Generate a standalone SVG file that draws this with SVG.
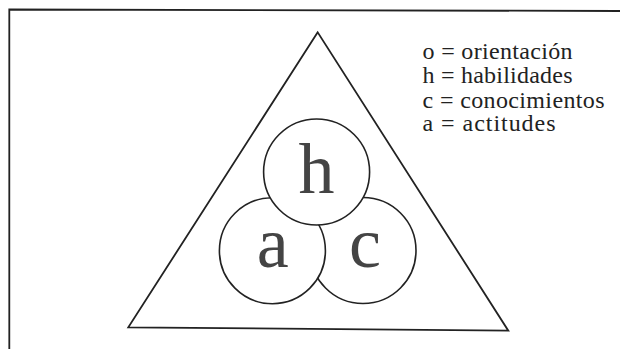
<svg xmlns="http://www.w3.org/2000/svg" width="620" height="349" viewBox="0 0 620 349">
<style>
.ln{fill:none;stroke:#222;stroke-width:1.8;stroke-linejoin:miter}
.cir{fill:#fff;stroke:#222;stroke-width:1.6}
.big{font-size:72px;fill:#444;text-anchor:middle}
.leg{font-size:24px;fill:#222}
</style>
<rect width="620" height="349" fill="#fff"/>
<g id="frame">
<polyline class="ln" points="9.3,349 9.3,9.5 620,11" stroke-width="2"/>
</g>
<g id="triangle">
<polygon class="ln" points="317.7,32.3 128.3,327.3 508.3,330.7"/>
</g>
<g id="connectors"></g>
<g id="node-c">
<circle class="cir" cx="363" cy="250.5" r="53"/>
<text class="big" font-family="Liberation Serif, serif" x="365" y="267">c</text>
</g>
<g id="node-a">
<circle class="cir" cx="272.4" cy="250.7" r="53"/>
<text class="big" font-family="Liberation Serif, serif" x="272.7" y="267">a</text>
</g>
<g id="node-h">
<circle class="cir" cx="316.6" cy="172" r="53"/>
<text class="big" font-family="Liberation Serif, serif" x="316.5" y="193">h</text>
</g>
<g id="legend" font-family="Liberation Serif, serif">
<text class="leg" x="422.5" y="58.5" textLength="150" lengthAdjust="spacing">o = orientación</text>
<text class="leg" x="422.5" y="83" textLength="150" lengthAdjust="spacing">h = habilidades</text>
<text class="leg" x="422.5" y="107.5" textLength="182" lengthAdjust="spacing">c = conocimientos</text>
<text class="leg" x="422.5" y="131" textLength="133" lengthAdjust="spacing">a = actitudes</text>
</g>
</svg>
